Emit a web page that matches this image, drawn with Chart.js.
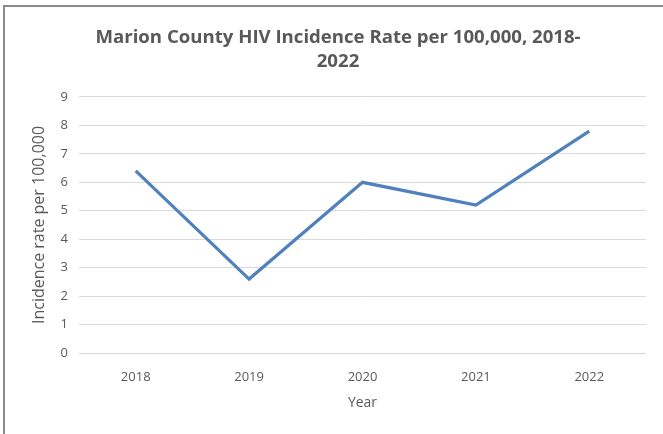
<!DOCTYPE html>
<html>
<head>
<meta charset="utf-8">
<script src="https://cdn.jsdelivr.net/npm/chart.js@4"></script>
<style>
	html, body { margin: 0; padding: 0; background: #ffffff; overflow: hidden; }
	#frame {
		position: absolute;
		left: 3px;
		top: 5px;
		width: 700px;
		height: 500px;
		border-left: 2px solid #8a8a8a;
		border-top: 2px solid #8a8a8a;
	}
	#wrap { position: absolute; left: 0; top: 0; width: 663px; height: 434px; }
</style>
</head>
<body>
<div id="frame"></div>
<div id="wrap"><canvas id="incidence" width="663" height="434"></canvas></div>
<script>
// Chart data
const years = ["2018", "2019", "2020", "2021", "2022"];
const incidenceRates = [6.4, 2.6, 6.0, 5.2, 7.8];
const yTicks = [0, 1, 2, 3, 4, 5, 6, 7, 8, 9];

const fontFamily = "'Open Sans', Lato, sans-serif";
const textColor = "#595959";

const ctx = document.getElementById("incidence").getContext("2d");

new Chart(ctx, {
	type: "line",
	data: {
		labels: years,
		datasets: [
			{
				label: "Incidence rate",
				data: incidenceRates,
				borderColor: "#4f81bd",
				borderWidth: 3.2,
				pointRadius: 0,
				tension: 0,
				fill: false,
			},
		],
	},
	options: {
		responsive: false,
		animation: false,
		layout: {
			padding: { left: 30, right: 17, top: 0, bottom: 0 },
		},
		plugins: {
			legend: { display: false },
			tooltip: { enabled: false },
			title: {
				display: true,
				text: ["Marion County HIV Incidence Rate per 100,000, 2018-", "2022"],
				color: textColor,
				font: { family: fontFamily, size: 18.6, weight: "bold", lineHeight: 1.29 },
				padding: { top: 26, bottom: 23 },
			},
		},
		scales: {
			x: {
				offset: true,
				afterFit: (scale) => {
					scale.height = 81;
				},
				grid: { display: false, drawTicks: false },
				border: { display: false },
				ticks: {
					color: textColor,
					font: { family: fontFamily, size: 13 },
					padding: 16,
				},
				title: {
					display: true,
					text: "Year",
					color: textColor,
					font: { family: fontFamily, size: 14 },
					padding: { top: 4, bottom: 23 },
				},
			},
			y: {
				min: 0,
				max: 9,
				afterBuildTicks: (scale) => {
					scale.ticks = yTicks.map((v) => ({ value: v }));
				},
				afterFit: (scale) => {
					scale.width = 49;
				},
				grid: { color: "#d9d9d9", lineWidth: 1, drawTicks: false },
				border: { display: false },
				ticks: {
					color: textColor,
					font: { family: fontFamily, size: 13 },
					padding: 11,
				},
				title: {
					display: true,
					text: "Incidence rate per 100,000",
					color: textColor,
					font: { family: fontFamily, size: 16 },
					padding: 0,
				},
			},
		},
	},
});
</script>
</body>
</html>
